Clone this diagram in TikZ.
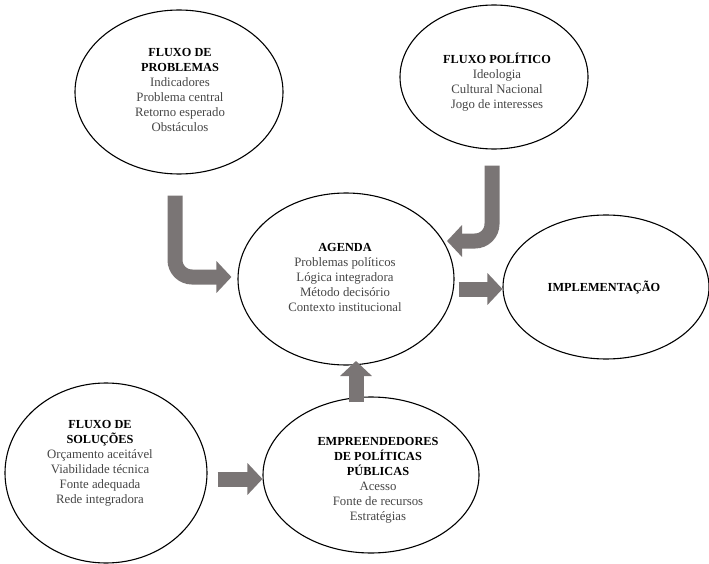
\documentclass[tikz,border=0pt]{standalone}
\usepackage{fontspec}
\setmainfont{Liberation Serif}[BoldFont={Liberation Serif Bold}]
\usetikzlibrary{arrows.meta,shapes.geometric,calc}
\definecolor{arrowgray}{RGB}{122,117,117}
\definecolor{textgray}{RGB}{70,70,70}
\newcommand{\hd}[1]{{\color{black}\bfseries\fontsize{12.3}{15}\selectfont #1}}
\begin{document}
\begin{tikzpicture}[x=1pt,y=-1pt,
  oval/.style={draw=black,line width=1.1pt,ellipse,inner sep=0pt},
  txt/.style={align=center,font=\rmfamily\fontsize{12.8}{15}\selectfont,text=textgray,inner sep=0pt},
  bigarrow/.style={draw=arrowgray,line width=15pt,-{Triangle[width=31pt,length=15pt]},rounded corners=17pt}]
\useasboundingbox (0,0) rectangle (709,564);
\fill[white] (0,0) rectangle (709,564);
% ellipses
\node[oval,minimum width=208pt,minimum height=164pt] (prob) at (179,92) {};
\node[oval,minimum width=188pt,minimum height=144pt] (pol) at (494,77) {};
\node[oval,minimum width=216pt,minimum height=172pt] (agenda) at (346,279) {};
\node[oval,minimum width=206pt,minimum height=144pt] (impl) at (606,287) {};
\node[oval,minimum width=202pt,minimum height=180pt] (sol) at (106,473) {};
\node[oval,minimum width=216pt,minimum height=156pt] (emp) at (371,475) {};
% texts
\node[txt] (tprob) at (180,90) {\hd{FLUXO DE}\\\hd{PROBLEMAS}\\Indicadores\\Problema central\\Retorno esperado\\Obstáculos};
\node[txt] (tpol) at (497,82) {\hd{FLUXO POLÍTICO}\\Ideologia\\Cultural Nacional\\Jogo de interesses};
\node[txt] (tagenda) at (345,277) {\hd{AGENDA}\\Problemas políticos\\Lógica integradora\\Método decisório\\Contexto institucional};
\node[txt] (timpl) at (604,287) {\hd{IMPLEMENTAÇÃO}};
\node[txt] (tsol) at (100,463) {\hd{FLUXO DE}\\\hd{SOLUÇÕES}\\Orçamento aceitável\\Viabilidade técnica\\Fonte adequada\\Rede integradora};
\node[txt] (temp) at (378,480) {\hd{EMPREENDEDORES}\\\hd{DE POLÍTICAS}\\\hd{PÚBLICAS}\\Acesso\\Fonte de recursos\\Estratégias};
% arrows
\coordinate (ag2) at (447,241);
\coordinate (ag5) at (356,361);
\draw[bigarrow] ([xshift=-4pt,yshift=-21pt]prob.south) |- ([xshift=-6pt,yshift=2pt]agenda.west);
\draw[bigarrow] ([xshift=-2pt,yshift=-16pt]pol.south) |- (ag2);
\draw[bigarrow] ([xshift=4pt,yshift=-10pt]agenda.east) -- ([yshift=-2pt]impl.west);
\draw[bigarrow] ([xshift=10pt,yshift=-6pt]sol.east) -- ([yshift=-4pt]emp.west);
\draw[bigarrow] ([xshift=-15pt,yshift=-6pt]emp.north) -- (ag5);
\end{tikzpicture}
\end{document}
